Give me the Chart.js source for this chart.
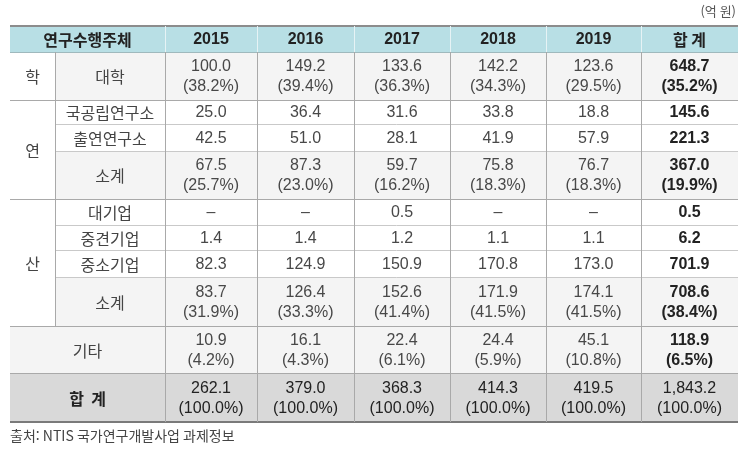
<!DOCTYPE html>
<html lang="ko">
<head>
<meta charset="utf-8">
<script src="https://cdn.jsdelivr.net/npm/chart.js@4.4.1/dist/chart.umd.min.js"></script>
<style>
  html, body { margin: 0; padding: 0; background: #fff; }
  #table { display: block; }
</style>
</head>
<body>
<canvas id="table" width="745" height="449"></canvas>
<script>
// DATA (억 원) - last value in each row is the 합계 column
const columns = ["2015", "2016", "2017", "2018", "2019", "합 계"];
const university = [100.0, 149.2, 133.6, 142.2, 123.6, 648.7];
const universityPct = [38.2, 39.4, 36.3, 34.3, 29.5, 35.2];
const nationalInst = [25.0, 36.4, 31.6, 33.8, 18.8, 145.6];
const govInst = [42.5, 51.0, 28.1, 41.9, 57.9, 221.3];
const instSubtotal = [67.5, 87.3, 59.7, 75.8, 76.7, 367.0];
const instPct = [25.7, 23.0, 16.2, 18.3, 18.3, 19.9];
const largeCorp = [null, null, 0.5, null, null, 0.5];
const midCorp = [1.4, 1.4, 1.2, 1.1, 1.1, 6.2];
const smallCorp = [82.3, 124.9, 150.9, 170.8, 173.0, 701.9];
const corpSubtotal = [83.7, 126.4, 152.6, 171.9, 174.1, 708.6];
const corpPct = [31.9, 33.3, 41.4, 41.5, 41.5, 38.4];
const other = [10.9, 16.1, 22.4, 24.4, 45.1, 118.9];
const otherPct = [4.2, 4.3, 6.1, 5.9, 10.8, 6.5];
const grandTotal = [262.1, 379.0, 368.3, 414.3, 419.5, 1843.2];
const grandPct = [100.0, 100.0, 100.0, 100.0, 100.0, 100.0];

const unitLabel = "(억 원)";
const sourceLabel = "출처: NTIS 국가연구개발사업 과제정보";

// LAYOUT (scale units, one unit = one pixel)
const colEdges = [10, 55, 165, 257, 354, 450, 546, 641, 738];
const rowEdges = [26, 52, 100, 124, 151, 199, 225, 250, 277, 326, 373, 422];

const FONT_NUM = '"Liberation Sans", "Noto Sans CJK KR", sans-serif';
const FONT_KR = '"Noto Sans CJK KR", "Liberation Sans", sans-serif';

function fmt(v) {
  if (v === null) return "–";
  return v.toLocaleString("en-US", { minimumFractionDigits: 1, maximumFractionDigits: 1 });
}

// body rows of the table
const bodyRows = [
  { label: "대학", values: university, pct: universityPct, shade: true },
  { label: "국공립연구소", values: nationalInst },
  { label: "출연연구소", values: govInst },
  { label: "소계", values: instSubtotal, pct: instPct, shade: true },
  { label: "대기업", values: largeCorp },
  { label: "중견기업", values: midCorp },
  { label: "중소기업", values: smallCorp },
  { label: "소계", values: corpSubtotal, pct: corpPct, shade: true },
  { label: "기타", values: other, pct: otherPct, shade: true, merged: true },
  { label: "합  계", values: grandTotal, pct: grandPct, total: true, merged: true }
];
const groups = [
  { label: "학", from: 1, to: 2 },
  { label: "연", from: 2, to: 5 },
  { label: "산", from: 5, to: 9 }
];

const tablePlugin = {
  id: "tablePlugin",
  afterDraw(chart) {
    const ctx = chart.ctx;
    const xs = chart.scales.x, ys = chart.scales.y;
    const X = (c) => xs.getPixelForValue(colEdges[c]);
    const Y = (r) => ys.getPixelForValue(rowEdges[r]);
    const last = colEdges.length - 1;

    function fill(c0, c1, r0, r1, color) {
      ctx.fillStyle = color;
      ctx.fillRect(X(c0), Y(r0), X(c1) - X(c0), Y(r1) - Y(r0));
    }
    function hline(r, c0, c1, color, w) {
      ctx.strokeStyle = color;
      ctx.lineWidth = w || 1;
      ctx.beginPath();
      const y = Math.round(Y(r)) + ((w || 1) % 2 ? 0.5 : 0);
      ctx.moveTo(X(c0), y);
      ctx.lineTo(X(c1), y);
      ctx.stroke();
    }
    function vline(c, r0, r1, color) {
      ctx.strokeStyle = color;
      ctx.lineWidth = 1;
      ctx.beginPath();
      const x = Math.round(X(c)) + 0.5;
      ctx.moveTo(x, Y(r0));
      ctx.lineTo(x, Y(r1));
      ctx.stroke();
    }
    function text(lines, c0, c1, r0, r1, font, color) {
      ctx.font = font;
      ctx.fillStyle = color;
      ctx.textAlign = "center";
      ctx.textBaseline = "middle";
      const cx = (X(c0) + X(c1)) / 2;
      const cy = (Y(r0) + Y(r1)) / 2;
      const gap = 20;
      lines.forEach((t, i) => {
        ctx.fillText(t, cx, cy + (i - (lines.length - 1) / 2) * gap + 1);
      });
    }

    ctx.save();

    // backgrounds
    fill(0, last, 0, 1, "#b8dfe5");
    bodyRows.forEach((row, i) => {
      const r = i + 1;
      if (row.total) fill(0, last, r, r + 1, "#d9d9d9");
      else if (row.shade) fill(row.merged ? 0 : 1, last, r, r + 1, "#f4f4f4");
    });

    // horizontal lines
    for (let r = 2; r < rowEdges.length - 1; r++) {
      const isGroupEdge = [2, 5, 9, 10].includes(r);
      hline(r, isGroupEdge ? 0 : 1, last, isGroupEdge ? "#a9a9a9" : "#c9c9c9", 1);
    }
    hline(1, 0, last, "#9fb9bd", 1);
    hline(0, 0, last, "#8c8c8c", 2);
    hline(rowEdges.length - 1, 0, last, "#7a7a7a", 2);

    // vertical lines
    vline(1, 1, 9, "#a9a9a9");
    for (let c = 2; c < last; c++) {
      vline(c, 0, 1, "#e6f3f5");
      vline(c, 1, rowEdges.length - 1, "#a9a9a9");
    }

    // header
    text(["연구수행주체"], 0, 2, 0, 1, "bold 16px " + FONT_KR, "#222");
    columns.forEach((col, j) => {
      const font = j === columns.length - 1 ? "bold 16px " + FONT_KR : "bold 16px " + FONT_NUM;
      text([col], j + 2, j + 3, 0, 1, font, "#222");
    });

    // group labels
    groups.forEach((g) => {
      text([g.label], 0, 1, g.from, g.to, "16px " + FONT_KR, "#444");
    });

    // body
    bodyRows.forEach((row, i) => {
      const r = i + 1;
      const labelFont = row.total ? "bold 16px " + FONT_KR : "16px " + FONT_KR;
      text([row.label], row.merged ? 0 : 1, 2, r, r + 1, labelFont, row.total ? "#222" : "#444");
      row.values.forEach((v, j) => {
        const lines = [fmt(v)];
        if (row.pct) lines.push("(" + fmt(row.pct[j]) + "%)");
        const isSum = j === row.values.length - 1;
        let font = "16px " + FONT_NUM;
        let color = "#484848";
        if (row.total) { color = "#222"; }
        else if (isSum) { font = "bold 16px " + FONT_NUM; color = "#222"; }
        text(lines, j + 2, j + 3, r, r + 1, font, color);
      });
    });

    // unit + source
    ctx.font = "13px " + FONT_KR;
    ctx.fillStyle = "#555";
    ctx.textAlign = "right";
    ctx.textBaseline = "middle";
    ctx.fillText(unitLabel, xs.getPixelForValue(736), ys.getPixelForValue(11));
    ctx.font = "14px " + FONT_KR;
    ctx.fillStyle = "#444";
    ctx.textAlign = "left";
    ctx.fillText(sourceLabel, xs.getPixelForValue(10), ys.getPixelForValue(436));

    ctx.restore();
  }
};

new Chart(document.getElementById("table"), {
  type: "scatter",
  data: { datasets: [] },
  options: {
    responsive: false,
    animation: false,
    layout: { padding: 0 },
    plugins: { legend: { display: false }, tooltip: { enabled: false } },
    scales: {
      x: { type: "linear", min: 0, max: 745, display: false },
      y: { type: "linear", min: 0, max: 449, reverse: true, display: false }
    }
  },
  plugins: [tablePlugin]
});
</script>
</body>
</html>
